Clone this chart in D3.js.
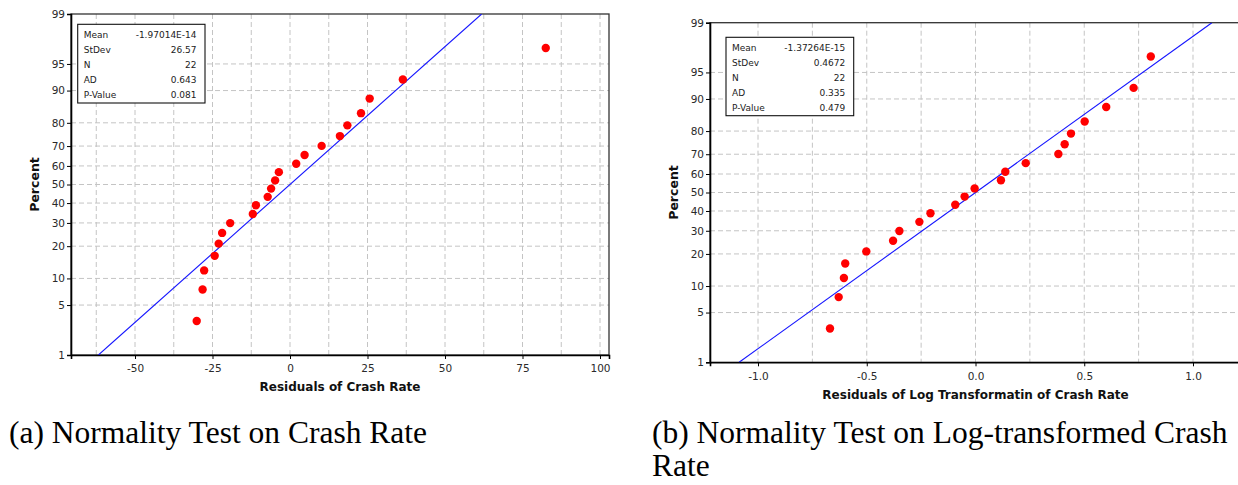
<!DOCTYPE html>
<html><head><meta charset="utf-8">
<script src="https://cdn.jsdelivr.net/npm/d3@7"></script>
<style>body{margin:0;background:#fff}svg{display:block}</style>
</head><body>
<svg id="c" width="1238" height="485"></svg>
<script>
// ---------- data ----------
const percentTicks = [1, 5, 10, 20, 30, 40, 50, 60, 70, 80, 90, 95, 99];
const percentTickLabels = ["1", "5", "10", "20", "30", "40", "50", "60", "70", "80", "90", "95", "99"];
const plotPercents = [3.125, 7.589, 12.054, 16.518, 20.982, 25.446, 29.911, 34.375, 38.839, 43.304, 47.768,
  52.232, 56.696, 61.161, 65.625, 70.089, 74.554, 79.018, 83.482, 87.946, 92.411, 96.875];
const residA = [-30.1, -28.2, -27.7, -24.3, -23.0, -21.9, -19.3, -12.0, -11.0, -7.2, -6.1,
  -4.8, -3.6, 2.0, 4.7, 10.2, 16.1, 18.5, 22.9, 25.7, 36.4, 82.5];
const residB = [-0.669, -0.629, -0.605, -0.599, -0.502, -0.379, -0.350, -0.258, -0.207, -0.093, -0.050,
  -0.004, 0.117, 0.137, 0.231, 0.381, 0.410, 0.439, 0.502, 0.601, 0.727, 0.806];
const xTicksA = [-50, -25, 0, 25, 50, 75, 100];
const xTickLabelsA = ["-50", "-25", "0", "25", "50", "75", "100"];
const xTicksB = [-1.0, -0.5, 0.0, 0.5, 1.0];
const xTickLabelsB = ["-1.0", "-0.5", "0.0", "0.5", "1.0"];
const statLabels = ["Mean", "StDev", "N", "AD", "P-Value"];
const statValuesA = ["-1.97014E-14", "26.57", "22", "0.643", "0.081"];
const statValuesB = ["-1.37264E-15", "0.4672", "22", "0.335", "0.479"];
const meanA = 0, sdA = 26.57;
const meanB = 0, sdB = 0.4672;
const fitPercents = [1, 99];
const captionA = ["(a) Normality Test on Crash Rate"];
const captionB = ["(b) Normality Test on Log-transformed Crash", "Rate"];

// ---------- inverse normal (probability scale) ----------
function probit(p) {
  const a = [-3.969683028665376e+01, 2.209460984245205e+02, -2.759285104469687e+02, 1.383577518672690e+02, -3.066479806614716e+01, 2.506628277459239e+00];
  const b = [-5.447609879822406e+01, 1.615858368580409e+02, -1.556989798598866e+02, 6.680131188771972e+01, -1.328068155288572e+01];
  const c = [-7.784894002430293e-03, -3.223964580411365e-01, -2.400758277161838e+00, -2.549732539343734e+00, 4.374664141464968e+00, 2.938163982698783e+00];
  const d = [7.784695709041462e-03, 3.224671290700398e-01, 2.445134137142996e+00, 3.754408661907416e+00];
  const pl = 0.02425, ph = 1 - pl;
  let q, r;
  if (p < pl) { q = Math.sqrt(-2 * Math.log(p)); return (((((c[0]*q+c[1])*q+c[2])*q+c[3])*q+c[4])*q+c[5]) / ((((d[0]*q+d[1])*q+d[2])*q+d[3])*q+1); }
  if (p <= ph) { q = p - 0.5; r = q*q; return (((((a[0]*r+a[1])*r+a[2])*r+a[3])*r+a[4])*r+a[5])*q / (((((b[0]*r+b[1])*r+b[2])*r+b[3])*r+b[4])*r+1); }
  q = Math.sqrt(-2 * Math.log(1 - p)); return -(((((c[0]*q+c[1])*q+c[2])*q+c[3])*q+c[4])*q+c[5]) / ((((d[0]*q+d[1])*q+d[2])*q+d[3])*q+1);
}

const svg = d3.select("#c");
const sans = "'DejaVu Sans', Verdana, sans-serif";

function panel(cfg) {
  const g = svg.append("g");
  const x = d3.scaleLinear().domain(cfg.xDomain).range([cfg.left, cfg.right]);
  const zMax = probit(0.99);
  const yz = d3.scaleLinear().domain([-zMax, zMax]).range([cfg.bottom, cfg.top]);
  const y = p => yz(probit(p / 100));

  const clipId = "clip" + cfg.id;
  svg.append("clipPath").attr("id", clipId).append("rect")
    .attr("x", cfg.left).attr("y", cfg.top).attr("width", cfg.right - cfg.left).attr("height", cfg.bottom - cfg.top);

  // grid
  const gridX = d3.range(Math.ceil(cfg.xDomain[0] / cfg.gridStep), Math.floor(cfg.xDomain[1] / cfg.gridStep) + 1).map(k => k * cfg.gridStep);
  g.append("g").selectAll("line").data(gridX).join("line")
    .attr("x1", d => x(d)).attr("x2", d => x(d)).attr("y1", cfg.top).attr("y2", cfg.bottom)
    .attr("stroke", "#c4c4c4").attr("stroke-width", 1).attr("stroke-dasharray", "5,3");
  g.append("g").selectAll("line").data(percentTicks.slice(1, -1)).join("line")
    .attr("x1", cfg.left).attr("x2", cfg.right).attr("y1", d => y(d)).attr("y2", d => y(d))
    .attr("stroke", "#c4c4c4").attr("stroke-width", 1).attr("stroke-dasharray", "5,3");

  // frame
  g.append("rect").attr("x", cfg.left).attr("y", cfg.top).attr("width", cfg.right - cfg.left).attr("height", cfg.bottom - cfg.top)
    .attr("fill", "none").attr("stroke", "#333").attr("stroke-width", 1.3);

  // axes
  const xAxis = d3.axisBottom(x).tickValues(cfg.xTicks).tickFormat((d, i) => cfg.xTickLabels[i]).tickSize(4).tickPadding(6);
  const ax = g.append("g").attr("transform", `translate(0,${cfg.bottom})`).call(xAxis);
  const yAxisScale = d3.scaleLinear().domain([-zMax, zMax]).range([cfg.bottom, cfg.top]);
  const yAxis = d3.axisLeft(yAxisScale).tickValues(percentTicks.map(p => probit(p / 100)))
    .tickFormat((d, i) => percentTickLabels[i]).tickSize(4).tickPadding(2);
  const ay = g.append("g").attr("transform", `translate(${cfg.left},0)`).call(yAxis);
  [ax, ay].forEach(a => {
    a.select(".domain").attr("stroke", "#000").attr("stroke-width", 1.6);
    a.selectAll(".tick line").attr("stroke", "#000");
    a.selectAll("text").attr("fill", "#2a2a2a").attr("font-family", sans).attr("font-size", 10.5);
  });

  // fit line
  g.append("path").attr("clip-path", `url(#${clipId})`)
    .datum(fitPercents)
    .attr("d", d3.line().x(p => x(cfg.mean + probit(p / 100) * cfg.sd)).y(p => y(p)))
    .attr("fill", "none").attr("stroke", "#1515ff").attr("stroke-width", 1.1);

  // points
  g.append("g").selectAll("circle").data(cfg.resid).join("circle")
    .attr("cx", d => x(d)).attr("cy", (d, i) => y(plotPercents[i])).attr("r", 4.2).attr("fill", "#ff0000");

  // stats box
  const b = cfg.box;
  g.append("rect").attr("x", b.x).attr("y", b.y).attr("width", b.w).attr("height", b.h)
    .attr("fill", "#fff").attr("stroke", "#111").attr("stroke-width", 1.1);
  g.append("g").selectAll("text").data(statLabels).join("text")
    .attr("x", b.x + 6).attr("y", (d, i) => b.y + 13.3 + i * 15)
    .attr("font-family", sans).attr("font-size", 9).attr("fill", "#222").text(d => d);
  g.append("g").selectAll("text").data(cfg.stats).join("text")
    .attr("x", b.x + b.w - 8.5).attr("y", (d, i) => b.y + 13.3 + i * 15).attr("text-anchor", "end")
    .attr("font-family", sans).attr("font-size", 9).attr("fill", "#222").text(d => d);

  // axis titles
  g.append("text").attr("x", (cfg.left + cfg.right) / 2).attr("y", cfg.bottom + cfg.xTitleDy)
    .attr("text-anchor", "middle").attr("font-family", sans).attr("font-weight", "bold").attr("font-size", 12)
    .attr("fill", "#111").text(cfg.xTitle);
  g.append("text").attr("transform", `translate(${cfg.yTitleX},${(cfg.top + cfg.bottom) / 2}) rotate(-90)`)
    .attr("text-anchor", "middle").attr("font-family", sans).attr("font-weight", "bold").attr("font-size", 12.5)
    .attr("fill", "#111").text("Percent");

  // caption
  g.append("g").selectAll("text").data(cfg.caption).join("text")
    .attr("x", cfg.capX).attr("y", (d, i) => 443 + i * 33)
    .attr("font-family", "'Liberation Serif', 'Times New Roman', serif").attr("font-size", 31.5).attr("fill", "#000")
    .text(d => d);
}

panel({
  id: "A", left: 71, right: 609, top: 14, bottom: 355, xDomain: [-70.65, 102.9], gridStep: 12.5,
  xTicks: xTicksA, xTickLabels: xTickLabelsA, resid: residA, mean: meanA, sd: sdA,
  stats: statValuesA, box: { x: 77.7, y: 24.3, w: 127.3, h: 78.7 },
  xTitle: "Residuals of Crash Rate", xTitleDy: 36, yTitleX: 39, caption: captionA, capX: 9
});
panel({
  id: "B", left: 710, right: 1241, top: 22.7, bottom: 362.3, xDomain: [-1.2207, 1.2207], gridStep: 0.25,
  xTicks: xTicksB, xTickLabels: xTickLabelsB, resid: residB, mean: meanB, sd: sdB,
  stats: statValuesB, box: { x: 726, y: 37.3, w: 127.7, h: 78.4 },
  xTitle: "Residuals of Log Transformatin of Crash Rate", xTitleDy: 37, yTitleX: 678, caption: captionB, capX: 652
});
</script>
</body></html>
